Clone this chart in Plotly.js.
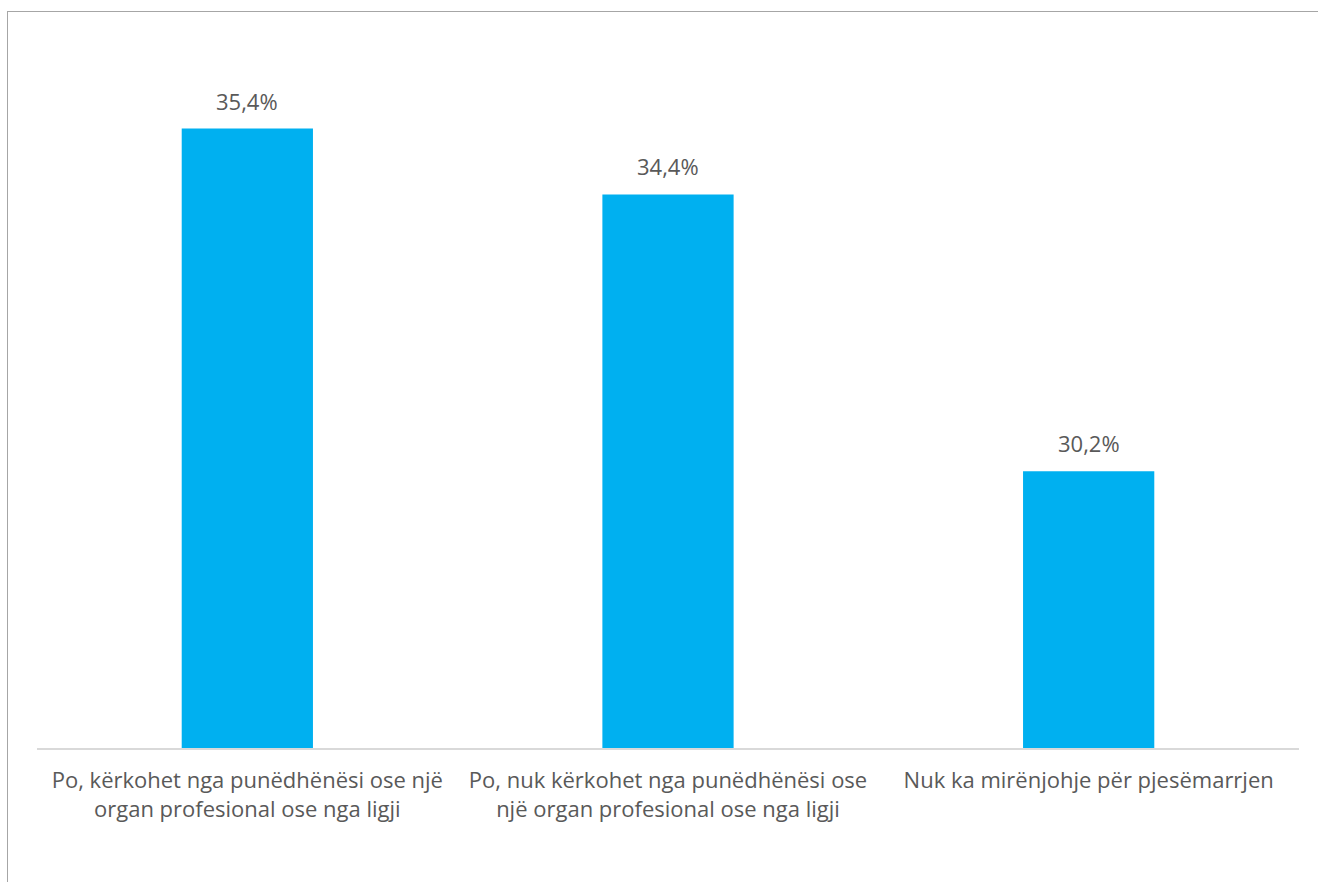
<!DOCTYPE html>
<html>
<head>
<meta charset="utf-8">
<script src="https://cdn.plot.ly/plotly-3.0.1.min.js"></script>
<style>
html,body{margin:0;padding:0;background:#fff;overflow:hidden;}
#wrap{position:relative;width:1318px;height:882px;overflow:hidden;}
#chart{width:1318px;height:882px;}
#frame{position:absolute;left:7px;top:11px;width:3000px;height:3000px;border-left:1.5px solid #A6A6A6;border-top:1.5px solid #A6A6A6;pointer-events:none;}
</style>
</head>
<body>
<div id="wrap"><div id="chart"></div><div id="frame"></div></div>
<script>
const categories = [
  "Po, kërkohet nga punëdhënësi ose një<br>organ profesional ose nga ligji",
  "Po, nuk kërkohet nga punëdhënësi ose<br>një organ profesional ose nga ligji",
  "Nuk ka mirënjohje për pjesëmarrjen"
];
const values = [35.4, 34.4, 30.2];
const valueLabels = ["35,4%", "34,4%", "30,2%"];

const trace = {
  type: 'bar',
  x: categories,
  y: values,
  marker: {color: '#00B0F0'},
  hoverinfo: 'none'
};

const annotations = categories.map((c, i) => ({
  x: c, y: values[i], xref: 'x', yref: 'y',
  text: valueLabels[i], showarrow: false,
  yanchor: 'bottom', yshift: 11,
  font: {family: 'Open Sans', size: 22, color: '#595959'}
}));

const layout = {
  width: 1318, height: 882,
  margin: {l: 37, r: 19, t: 89, b: 134},
  paper_bgcolor: '#ffffff', plot_bgcolor: '#ffffff',
  bargap: 0.688,
  showlegend: false,
  xaxis: {
    showline: true, linecolor: '#D9D9D9', linewidth: 2,
    ticks: '', showgrid: false, zeroline: false,
    ticklabelstandoff: 12,
    tickfont: {family: 'Open Sans', size: 22, color: '#595959'},
    automargin: false
  },
  yaxis: {visible: false, range: [26, 36], showgrid: false, zeroline: false, fixedrange: true},
  annotations: annotations
};

Plotly.newPlot('chart', [trace], layout, {staticPlot: true, displayModeBar: false});
</script>
</body>
</html>
